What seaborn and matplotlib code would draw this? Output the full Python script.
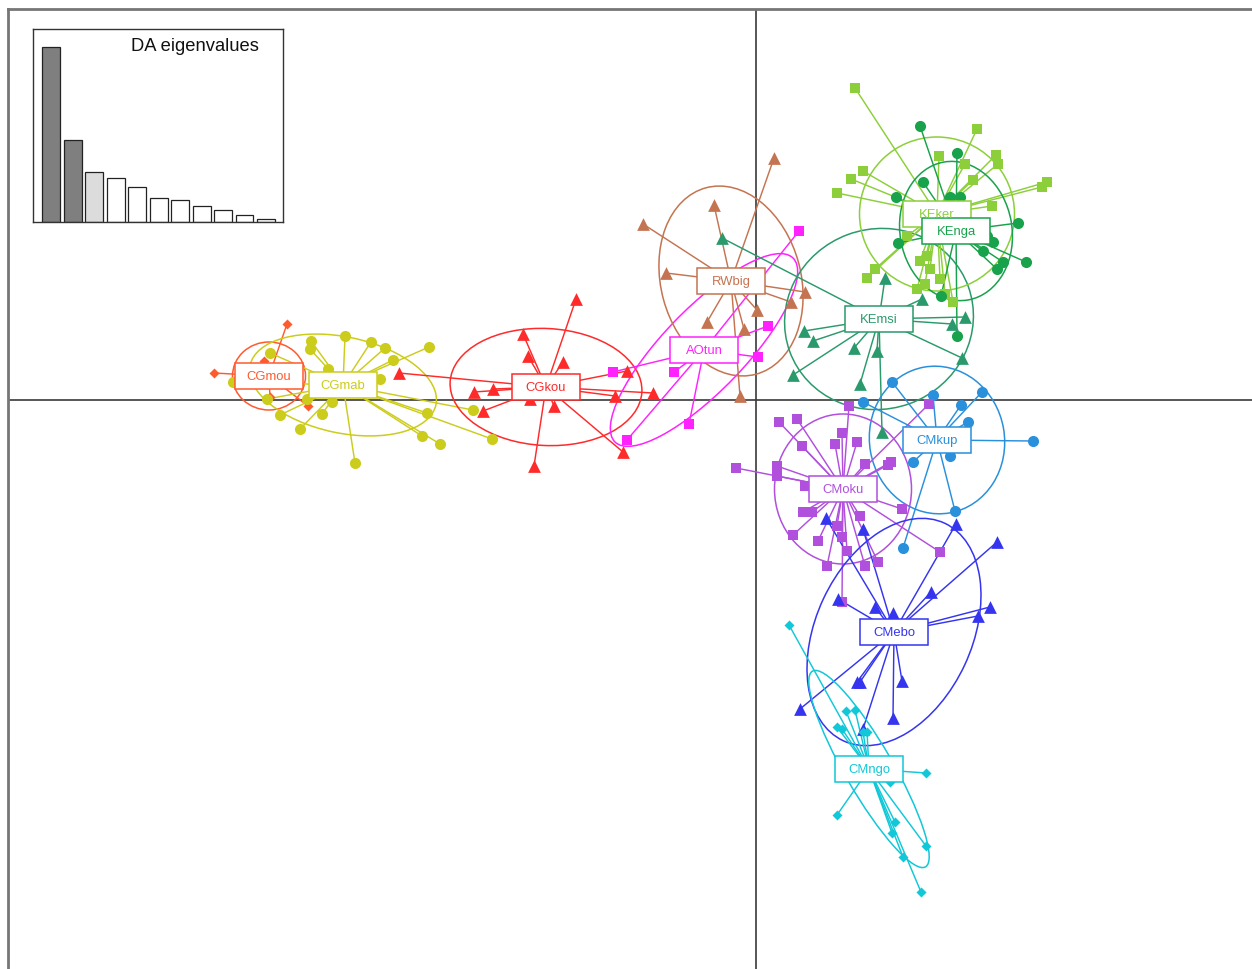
import pandas as pd
import matplotlib
matplotlib.use("Agg")
import matplotlib.pyplot as plt
from matplotlib.patches import Ellipse, Rectangle
import seaborn as sns

# grupos do DAPC
GROUPS = ["CGmou", "CGmab", "CGkou", "AOtun", "RWbig", "KEmsi",
          "KEker", "KEnga", "CMkup", "CMoku", "CMebo", "CMngo"]
COLORS = ["#FF5A2E", "#CCCC1C", "#FF2A2A", "#FF22FF", "#C47450", "#2A9A6C",
          "#8CCF3A", "#18A24C", "#2A90DC", "#B050DD", "#3535F0", "#10C8D8"]
MARKERS = ["D", "o", "^", "s", "^", "^", "s", "o", "o", "s", "^", "D"]

# centros (LD1, LD2) e elipses de inércia
CENTER_X = [-4.87, -4.13, -2.10, -0.52, -0.25, 1.23, 1.81, 2.00, 1.81, 0.87, 1.38, 1.13]
CENTER_Y = [0.24, 0.15, 0.13, 0.50, 1.19, 0.81, 1.86, 1.69, -0.40, -0.89, -2.32, -3.69]
ELL_W = [0.73, 1.90, 1.92, 2.56, 1.40, 1.90, 1.55, 1.12, 1.35, 1.37, 2.40, 2.26]
ELL_H = [0.68, 0.96, 1.17, 0.82, 1.93, 1.80, 1.54, 1.40, 1.48, 1.50, 1.56, 0.48]
ELL_ANGLE = [0, -12, -3, 46, 15, 20, 0, 10, 10, 0, 65, -60]

# coordenadas dos indivíduos
CGMOU_X = [-4.69, -5.42, -4.92, -4.86, -4.48]
CGMOU_Y = [0.76, 0.27, 0.39, 0.03, -0.06]
CGMAB_X = [-4.45, -4.46, -4.11, -3.85, -3.71, -3.63, -3.27, -4.86, -4.28, -3.76, -4.24, -4.34,
           -4.76, -4.56, -4.01, -3.29, -3.34, -3.16, -2.83, -2.64, -5.23, -4.89, -4.49]
CGMAB_Y = [0.59, 0.51, 0.64, 0.58, 0.52, 0.40, 0.53, 0.47, 0.31, 0.21, -0.02, -0.14,
           -0.15, -0.29, -0.63, -0.13, -0.36, -0.44, -0.10, -0.39, 0.18, 0.01, 0.01]
CGKOU_X = [-1.80, -2.33, -2.28, -1.93, -3.57, -2.82, -2.63, -2.73, -2.02, -2.26, -2.22, -1.33,
           -1.29, -1.41, -1.03]
CGKOU_Y = [1.01, 0.66, 0.44, 0.38, 0.27, 0.08, 0.11, -0.11, -0.06, 0.01, -0.66, -0.52,
           0.29, 0.04, 0.07]
AOTUN_X = [0.43, 0.12, 0.02, -0.82, -1.43, -0.67, -1.29]
AOTUN_Y = [1.69, 0.74, 0.43, 0.28, 0.28, -0.24, -0.40]
RWBIG_X = [0.18, -0.42, -1.13, -0.90, -0.49, -0.12, 0.01, 0.35, 0.49, -0.16]
RWBIG_Y = [2.42, 1.95, 1.76, 1.27, 0.78, 0.71, 0.90, 0.98, 1.08, 0.04]
KEMSI_X = [-0.34, 0.48, 0.57, 0.37, 0.98, 1.21, 1.04, 1.29, 1.66, 2.09, 1.96, 2.06, 1.26]
KEMSI_Y = [1.62, 0.69, 0.59, 0.25, 0.52, 0.49, 0.16, 1.22, 1.01, 0.83, 0.76, 0.42, -0.32]
KEKER_X = [0.99, 2.21, 1.83, 2.40, 2.42, 2.09, 2.17, 1.07, 0.95, 0.81, 2.91, 2.86, 2.36,
           1.19, 1.11, 1.61, 1.97, 1.51, 1.71, 1.64, 1.74, 1.84, 1.69, 1.89]
KEKER_Y = [3.12, 2.71, 2.44, 2.45, 2.36, 2.36, 2.20, 2.29, 2.21, 2.07, 2.18, 2.13, 1.94,
           1.31, 1.22, 1.11, 0.98, 1.64, 1.44, 1.39, 1.31, 1.21, 1.16, 1.06]
KENGA_X = [1.64, 2.01, 1.67, 1.40, 1.94, 2.04, 2.62, 1.42, 2.31, 2.37, 2.27, 2.47, 2.70,
           2.41, 1.85, 2.01]
KENGA_Y = [2.74, 2.47, 2.18, 2.03, 2.03, 2.03, 1.77, 1.57, 1.64, 1.58, 1.49, 1.38, 1.38,
           1.31, 1.04, 0.64]
CMKUP_X = [1.36, 1.77, 2.26, 2.05, 2.12, 1.07, 2.77, 1.94, 1.57, 1.99, 1.47]
CMKUP_Y = [0.18, 0.05, 0.08, -0.05, -0.22, -0.02, -0.41, -0.56, -0.62, -1.11, -1.48]
CMOKU_X = [0.23, 0.41, 0.93, 1.73, -0.20, 0.21, 0.21, 0.46, 0.79, 0.86, 1.01, 1.09, 1.32,
           0.49, 0.47, 0.56, 0.37, 0.62, 0.81, 0.91, 0.71, 1.09, 1.22, 1.46, 1.84, 0.86,
           1.04, 0.86, 1.35]
CMOKU_Y = [-0.22, -0.19, -0.06, -0.04, -0.68, -0.66, -0.76, -0.46, -0.44, -0.33, -0.42,
           -0.64, -0.65, -0.86, -1.12, -1.12, -1.35, -1.41, -1.26, -1.51, -1.66, -1.66,
           -1.62, -1.09, -1.52, -2.02, -1.16, -1.37, -0.62]
CMEBO_X = [2.00, 2.41, 2.34, 2.22, 1.75, 0.82, 1.19, 1.37, 1.07, 0.70, 1.01, 1.04, 1.46,
           1.37, 0.44, 1.07]
CMEBO_Y = [-1.24, -1.42, -2.07, -2.16, -1.92, -1.99, -2.07, -2.13, -1.29, -1.18, -2.82,
           -2.82, -2.81, -3.18, -3.09, -3.29]
CMNGO_X = [0.33, 0.90, 0.99, 0.81, 0.86, 1.07, 1.11, 1.70, 0.81, 1.34, 1.36, 1.47, 1.70,
           1.65, 1.39]
CMNGO_Y = [-2.25, -3.11, -3.10, -3.27, -3.29, -3.32, -3.32, -3.73, -4.15, -3.82, -4.33,
           -4.57, -4.46, -4.92, -4.22]

POINTS_X = [CGMOU_X, CGMAB_X, CGKOU_X, AOTUN_X, RWBIG_X, KEMSI_X,
            KEKER_X, KENGA_X, CMKUP_X, CMOKU_X, CMEBO_X, CMNGO_X]
POINTS_Y = [CGMOU_Y, CGMAB_Y, CGKOU_Y, AOTUN_Y, RWBIG_Y, KEMSI_Y,
            KEKER_Y, KENGA_Y, CMKUP_Y, CMOKU_Y, CMEBO_Y, CMNGO_Y]

# autovalores da DA (barras do inset)
EIGENVALUES = [527, 247, 152, 134, 107, 73, 65, 48, 35, 20, 9]
EIG_COLORS = ["#7F7F7F", "#7F7F7F", "#DCDCDC"] + ["#FFFFFF"] * 8

MARKER_SIZE = {"o": 64, "s": 60, "^": 84, "D": 26}

sns.set_style("white")
plt.rcParams["font.family"] = ["Liberation Sans", "DejaVu Sans"]

tbl = pd.concat(
    [pd.DataFrame({"LD1": px, "LD2": py, "grupo": g})
     for g, px, py in zip(GROUPS, POINTS_X, POINTS_Y)],
    ignore_index=True)

fig = plt.figure(figsize=(12.52, 9.70), dpi=100)
ax = fig.add_axes([8 / 1252, 0, 1244 / 1252, 960 / 970])
ax.set_xlim(-7.48, 4.96)
ax.set_ylim(-5.69, 3.91)

ax.axhline(0, color="#3a3a3a", lw=1.2, zorder=1)
ax.axvline(0, color="#3a3a3a", lw=1.2, zorder=1)

for i, g in enumerate(GROUPS):
    cor = COLORS[i]
    sub = tbl[tbl["grupo"] == g]
    cx, cy = CENTER_X[i], CENTER_Y[i]
    # estrela: linhas do centro até cada indivíduo
    for x, y in zip(sub["LD1"], sub["LD2"]):
        ax.plot([cx, x], [cy, y], color=cor, lw=1.05, zorder=2)
    ax.add_patch(Ellipse((cx, cy), ELL_W[i], ELL_H[i], angle=ELL_ANGLE[i],
                         fill=False, edgecolor=cor, lw=1.1, zorder=2))
    sns.scatterplot(data=sub, x="LD1", y="LD2", ax=ax, color=cor,
                    marker=MARKERS[i], s=MARKER_SIZE[MARKERS[i]],
                    edgecolor=cor, linewidth=0, zorder=3, legend=False)

# rótulos dos grupos
for i, g in enumerate(GROUPS):
    ax.add_patch(Rectangle((CENTER_X[i] - 0.34, CENTER_Y[i] - 0.13), 0.68, 0.26,
                           facecolor="white", edgecolor=COLORS[i], lw=1.1, zorder=5))
    ax.text(CENTER_X[i], CENTER_Y[i], g, color=COLORS[i], fontsize=9.4,
            ha="center", va="center", zorder=6)

ax.set_xlabel("")
ax.set_ylabel("")
ax.set_xticks([])
ax.set_yticks([])
for lado in ["right", "bottom"]:
    ax.spines[lado].set_visible(False)
for lado in ["top", "left"]:
    ax.spines[lado].set_color("#767676")
    ax.spines[lado].set_linewidth(2.0)

# inset com os autovalores
axi = fig.add_axes([33 / 1252, 1 - 223 / 970, 250 / 1252, 193 / 970])
pos = [str(k) for k in range(len(EIGENVALUES))]
sns.barplot(x=pos, y=EIGENVALUES, hue=pos, palette=EIG_COLORS, legend=False,
            width=0.83, edgecolor="#222222", linewidth=0.9, ax=axi)
axi.set_xlim(-0.85, 10.79)
axi.set_ylim(0, max(EIGENVALUES) * 582 / 527)
axi.set_xticks([])
axi.set_yticks([])
axi.set_xlabel("")
axi.set_ylabel("")
for s in axi.spines.values():
    s.set_color("#333333")
    s.set_linewidth(1.0)
axi.text(0.905, 0.915, "DA eigenvalues", transform=axi.transAxes,
         ha="right", va="center", fontsize=13.2, color="#111111")

fig.savefig("out.png", dpi=100, facecolor="white")
